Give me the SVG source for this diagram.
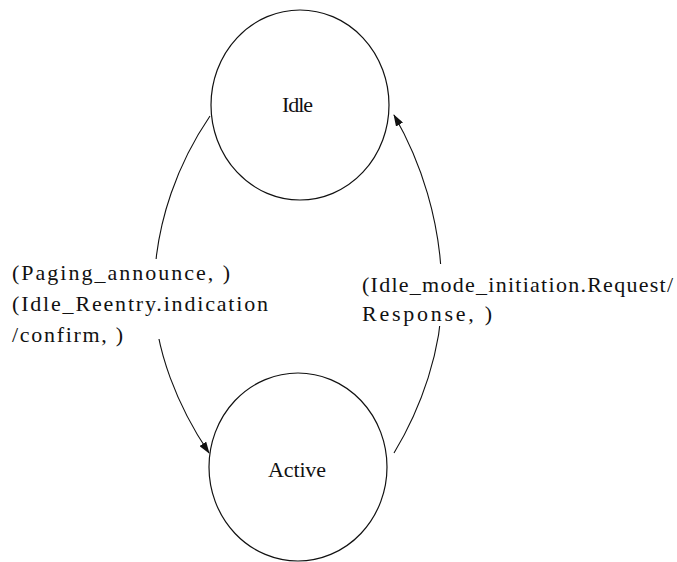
<svg xmlns="http://www.w3.org/2000/svg" width="677" height="562" viewBox="0 0 677 562">
<style>
.node{fill:#fff;stroke:#111;stroke-width:1.2}
.edge{fill:none;stroke:#111;stroke-width:1.1}
.nl{font-family:"Liberation Serif","Times New Roman",serif;font-size:22px;fill:#111}
.el{font-family:"Liberation Serif","Times New Roman",serif;font-size:22px;fill:#111}
.bg{fill:#fff}
</style>
<defs>
<marker id="arr" markerWidth="12" markerHeight="8" refX="11" refY="4" orient="auto" markerUnits="userSpaceOnUse">
<path d="M0,0 L12,4 L0,8 Z" fill="#111"/>
</marker>
</defs>
<g id="connectors">
<path id="e-idle-active" class="edge" d="M210,116 C180,160 155,220 154,290 C153,350 180,410 209,453" marker-end="url(#arr)"/>
<path id="e-active-idle" class="edge" d="M394,453 C420,410 443,350 442,290 C441,220 420,160 394,115" marker-end="url(#arr)"/>
</g>
<g id="label-left">
<rect class="bg" x="8" y="259" width="264" height="80"/>
<text class="el" x="12" y="280" textLength="218" lengthAdjust="spacing">(Paging_announce, )</text>
<text class="el" x="12" y="311" textLength="256" lengthAdjust="spacing">(Idle_Reentry.indication</text>
<text class="el" x="12" y="342" textLength="111" lengthAdjust="spacing">/confirm, )</text>
</g>
<g id="label-right">
<rect class="bg" x="358" y="264" width="318" height="62"/>
<text class="el" x="362" y="292" textLength="311" lengthAdjust="spacing">(Idle_mode_initiation.Request/</text>
<text class="el" x="362" y="321" textLength="130" lengthAdjust="spacing">Response, )</text>
</g>
<g id="node-idle">
<ellipse class="node" cx="300" cy="105" rx="89" ry="95"/>
<text class="nl" x="282" y="112" textLength="31" lengthAdjust="spacing">Idle</text>
</g>
<g id="node-active">
<ellipse class="node" cx="298" cy="467" rx="89" ry="94"/>
<text class="nl" x="268" y="477" textLength="58" lengthAdjust="spacing">Active</text>
</g>
</svg>
